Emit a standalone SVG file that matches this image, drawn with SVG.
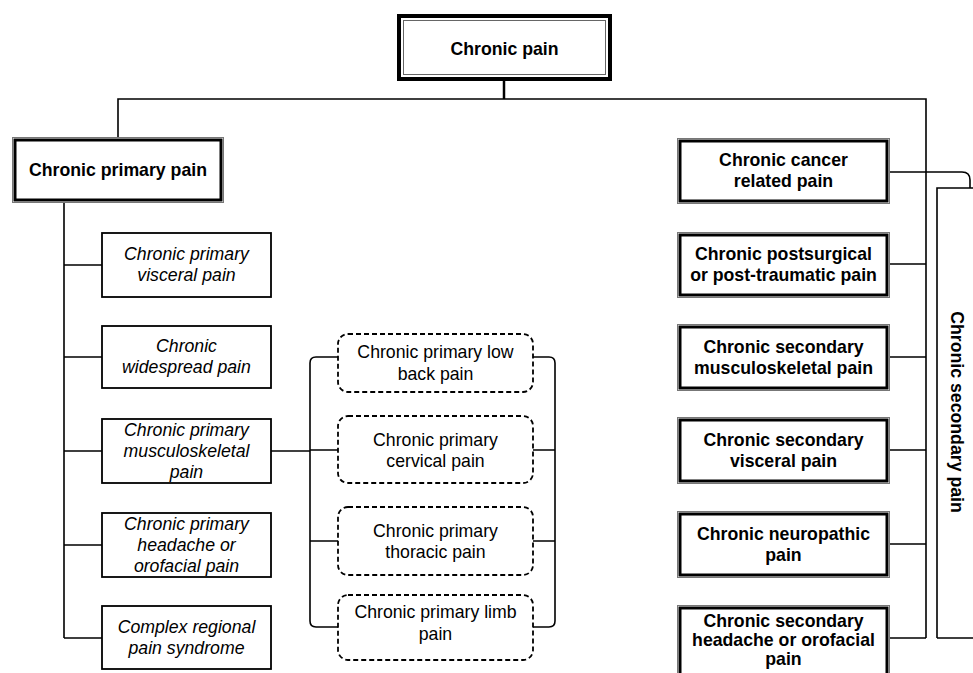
<svg xmlns="http://www.w3.org/2000/svg" width="973" height="673" viewBox="0 0 973 673">
<style>
.t{font-family:"Liberation Sans",Arial,sans-serif;font-size:17.7px;fill:#000;text-anchor:middle}
.b{font-weight:bold}
.i{font-style:italic}
.out{fill:none;stroke:#777;stroke-width:1}
.thick{fill:#fff;stroke:#000;stroke-width:3}
.single{fill:#fff;stroke:#000;stroke-width:1.8}
.dash{fill:#fff;stroke:#000;stroke-width:1.8;stroke-dasharray:5 3}
.c{fill:none;stroke:#000;stroke-width:1.6}
</style>
<rect width="973" height="673" fill="#fff"/>
<g id="connectors">
<path class="c" d="M504 81V99" style="stroke-width:2.5"/>
<path class="c" d="M118 137V99H926V638"/>
<path class="c" d="M64 203V638M64 265H102M64 357H102M64 451H102M64 545H102M64 638H102"/>
<path class="c" d="M271 451H310"/>
<path class="c" d="M338 357H316Q310 357 310 363V621Q310 627 316 627H338M310 450H338M310 541H338"/>
<path class="c" d="M533 357H549Q555 357 555 363V621Q555 627 549 627H533M555 450H533M555 541H533"/>
<path class="c" d="M890 172H962Q970 172 970 180V188M937 638V188H973M937 638H973"/>
<path class="c" d="M890 264H926M890 357H926M890 450H926M890 544H926M890 638H926"/>
</g>
<g id="chronic-pain">
<rect x="399" y="16" width="211" height="63" fill="#fff" stroke="#000" stroke-width="4"/>
<rect x="403.5" y="20.5" width="202" height="54" fill="none" stroke="#666" stroke-width="1"/>
<text class="t b" x="504.5" y="55">Chronic pain</text>
</g>
<g id="chronic-primary-pain">
<rect class="out" x="12.5" y="137.5" width="211" height="65"/>
<rect class="thick" x="15" y="140" width="206" height="60"/>
<text class="t b" x="118" y="176">Chronic primary pain</text>
</g>
<g id="primary-visceral">
<rect class="single" x="102" y="233" width="169" height="64"/>
<text class="t i" x="186.5" y="260">Chronic primary</text>
<text class="t i" x="186.5" y="281">visceral pain</text>
</g>
<g id="widespread">
<rect class="single" x="102" y="326" width="169" height="62"/>
<text class="t i" x="186.5" y="352">Chronic</text>
<text class="t i" x="186.5" y="373">widespread pain</text>
</g>
<g id="primary-musculoskeletal">
<rect class="single" x="102" y="419" width="169" height="64"/>
<text class="t i" x="186.5" y="436">Chronic primary</text>
<text class="t i" x="186.5" y="457">musculoskeletal</text>
<text class="t i" x="186.5" y="478">pain</text>
</g>
<g id="primary-headache">
<rect class="single" x="102" y="513" width="169" height="64"/>
<text class="t i" x="186.5" y="530">Chronic primary</text>
<text class="t i" x="186.5" y="551">headache or</text>
<text class="t i" x="186.5" y="572">orofacial pain</text>
</g>
<g id="crps">
<rect class="single" x="102" y="606" width="169" height="63"/>
<text class="t i" x="186.5" y="633">Complex regional</text>
<text class="t i" x="186.5" y="654">pain syndrome</text>
</g>
<g id="low-back">
<rect class="dash" x="338" y="334" width="195" height="58" rx="10"/>
<text class="t" x="435.5" y="358">Chronic primary low</text>
<text class="t" x="435.5" y="380">back pain</text>
</g>
<g id="cervical">
<rect class="dash" x="338" y="416" width="195" height="67" rx="10"/>
<text class="t" x="435.5" y="446">Chronic primary</text>
<text class="t" x="435.5" y="467">cervical pain</text>
</g>
<g id="thoracic">
<rect class="dash" x="338" y="507" width="195" height="68" rx="10"/>
<text class="t" x="435.5" y="537">Chronic primary</text>
<text class="t" x="435.5" y="558">thoracic pain</text>
</g>
<g id="limb">
<rect class="dash" x="338" y="595" width="195" height="65" rx="10"/>
<text class="t" x="435.5" y="618">Chronic primary limb</text>
<text class="t" x="435.5" y="640">pain</text>
</g>
<g id="cancer">
<rect class="out" x="677.5" y="138.5" width="212" height="65"/>
<rect class="thick" x="680" y="141" width="207" height="60"/>
<text class="t b" x="783.5" y="166">Chronic cancer</text>
<text class="t b" x="783.5" y="187">related pain</text>
</g>
<g id="postsurgical">
<rect class="out" x="677.5" y="232.5" width="212" height="65"/>
<rect class="thick" x="680" y="235" width="207" height="60"/>
<text class="t b" x="783.5" y="260">Chronic postsurgical</text>
<text class="t b" x="783.5" y="281">or post-traumatic pain</text>
</g>
<g id="secondary-musculoskeletal">
<rect class="out" x="677.5" y="324.5" width="212" height="66"/>
<rect class="thick" x="680" y="327" width="207" height="61"/>
<text class="t b" x="783.5" y="353">Chronic secondary</text>
<text class="t b" x="783.5" y="374">musculoskeletal pain</text>
</g>
<g id="secondary-visceral">
<rect class="out" x="677.5" y="417.5" width="212" height="66"/>
<rect class="thick" x="680" y="420" width="207" height="61"/>
<text class="t b" x="783.5" y="446">Chronic secondary</text>
<text class="t b" x="783.5" y="467">visceral pain</text>
</g>
<g id="neuropathic">
<rect class="out" x="677.5" y="511.5" width="212" height="66"/>
<rect class="thick" x="680" y="514" width="207" height="61"/>
<text class="t b" x="783.5" y="540">Chronic neuropathic</text>
<text class="t b" x="783.5" y="561">pain</text>
</g>
<g id="secondary-headache">
<rect class="out" x="677.5" y="605.5" width="212" height="80"/>
<rect class="thick" x="680" y="608" width="207" height="75"/>
<text class="t b" x="783.5" y="627">Chronic secondary</text>
<text class="t b" x="783.5" y="646">headache or orofacial</text>
<text class="t b" x="783.5" y="665">pain</text>
</g>
<g id="chronic-secondary-pain">
<text class="t b" x="0" y="0" transform="translate(951 412) rotate(90)">Chronic secondary pain</text>
</g>
</svg>
